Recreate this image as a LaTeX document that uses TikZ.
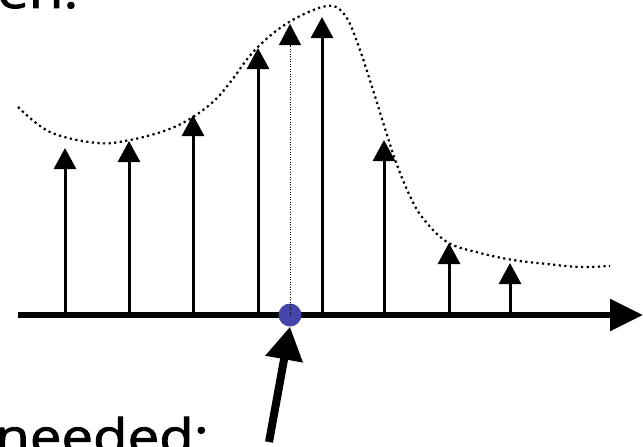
\documentclass[tikz,border=0pt]{standalone}
\usepackage{fontspec}
\setmainfont{Open Sans}
\newfontfamily\slidefont[FakeBold=1.6]{Open Sans}
\usetikzlibrary{arrows.meta}
\definecolor{dotblue}{RGB}{68,68,170}
\tikzset{
  sample/.style={line width=3pt,-{Triangle[width=22pt,length=21pt]}},
  envelope/.style={line width=2.2pt,dash pattern=on 2.2pt off 3.4pt},
  axisline/.style={line width=6pt,-{Triangle[width=31pt,length=33pt]}},
  pointer/.style={line width=8pt,-{Triangle[width=36pt,length=33pt]}},
  bigtext/.style={font=\fontsize{49}{56}\slidefont,inner sep=0pt,anchor=base west,xscale=1.15,transform shape}
}
\begin{document}
\begin{tikzpicture}[x=1pt,y=-1pt]
\useasboundingbox (0,0) rectangle (643,447);
\clip (0,0) rectangle (643,447);
% texts (cut off by the frame)
\node[bigtext] (top) at (-3,8) {en:};
\node[bigtext,anchor=base east] (bottom) at (209,454) {needed:};
% envelope
\draw[envelope] plot[smooth,tension=0.6] coordinates {
 (18,107) (50,132) (97,143) (130,140) (167,130) (193,117) (215,100)
 (232,80) (248,58) (262,43) (280,28) (300,16) (322,7) (336,7) (348,20)
 (360,50) (373,90) (387,135) (397,165) (409,194) (422,217) (447,242)
 (480,253) (513,260) (547,264) (580,267) (610,266)};
% axis
\coordinate (a0) at (18,315);
\coordinate (a1) at (643,315);
\draw[axisline] (a0) -- (a1);
% samples
\foreach \i/\x/\t in {1/65/148,2/129/141,3/193/115,4/258/48,6/322/17,7/384/140,8/449/243,9/510/263}{
  \coordinate (b\i) at (\x,315);
  \coordinate (t\i) at (\x,\t);
  \draw[sample] (b\i) -- (t\i);
}
% interpolated point
\node[circle,fill=dotblue,minimum size=23pt,inner sep=0pt] (dot) at (290,315) {};
\coordinate (t5) at (290,24);
\coordinate (h5) at (290,45);
\draw[line width=0.8pt,dash pattern=on 1pt off 1.5pt] (dot.center) -- (h5);
\draw[line width=0.1pt,-{Triangle[width=22pt,length=21pt]}] (h5) -- (t5);
% pointer
\coordinate (p0) at (269,442);
\draw[pointer] (p0) -- (dot.south);
\end{tikzpicture}
\end{document}
